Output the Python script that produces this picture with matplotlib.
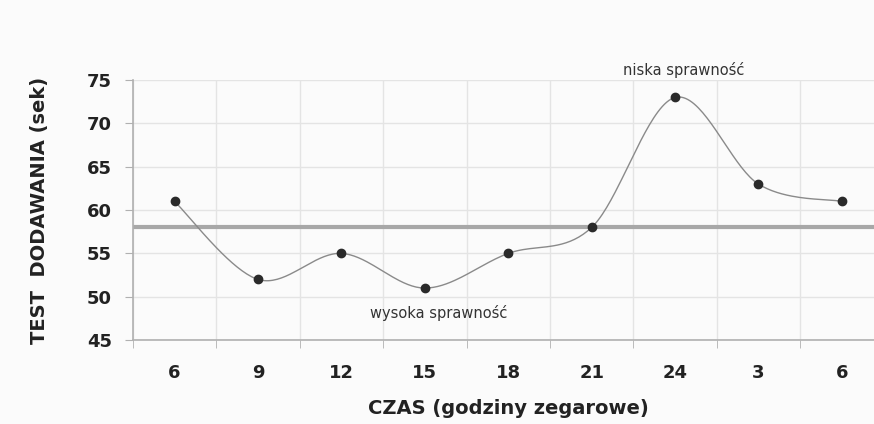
import numpy as np
import matplotlib.pyplot as plt

plt.rcParams['font.family'] = ['DejaVu Sans']

# data
hours = ['6', '9', '12', '15', '18', '21', '24', '3', '6']
times = [61, 52, 55, 51, 55, 58, 73, 63, 61]
mean_level = 58


def smooth_curve(x, y, n=40):
    # Excel-like smoothed line (Catmull-Rom as cubic Bezier)
    x = np.asarray(x, float)
    y = np.asarray(y, float)
    px = np.concatenate([[x[0]], x, [x[-1]]])
    py = np.concatenate([[y[0]], y, [y[-1]]])
    xs, ys = [], []
    t = np.linspace(0, 1, n)
    for i in range(1, len(px) - 2):
        p0 = np.array([px[i], py[i]])
        p3 = np.array([px[i + 1], py[i + 1]])
        c1 = p0 + (np.array([px[i + 1], py[i + 1]]) - np.array([px[i - 1], py[i - 1]])) / 6
        c2 = p3 - (np.array([px[i + 2], py[i + 2]]) - np.array([px[i], py[i]])) / 6
        b = ((1 - t) ** 3)[:, None] * p0 + (3 * (1 - t) ** 2 * t)[:, None] * c1 \
            + (3 * (1 - t) * t ** 2)[:, None] * c2 + (t ** 3)[:, None] * p3
        xs.extend(b[:, 0])
        ys.extend(b[:, 1])
    return np.array(xs), np.array(ys)


fig = plt.figure(figsize=(8.74, 4.24), dpi=100)
fig.patch.set_facecolor('#fbfbfb')
ax = fig.add_axes([0.152, 0.198, 0.859, 0.613])
ax.set_facecolor('#fbfbfb')

x = np.arange(len(hours))
xs, ys = smooth_curve(x, times)
ax.plot(xs, ys, color='#8a8a8a', lw=1.0, zorder=3)
ax.plot(x, times, 'o', color='#2a2a2a', ms=6, zorder=4)
ax.axhline(mean_level, color='#a8a8a8', lw=3, zorder=2)

ax.set_xlim(-0.5, len(hours) - 0.5)
ax.set_ylim(45, 75)
ax.set_yticks(range(45, 76, 5))
ax.set_xticks(x)
ax.set_xticklabels(hours)
ax.set_xticks(np.arange(-0.5, len(hours), 1), minor=True)
ax.tick_params(axis='x', which='major', length=0, pad=17)
ax.tick_params(axis='x', which='minor', length=6, color='#b0b0b0', direction='out')
ax.tick_params(axis='y', length=6, color='#b0b0b0', direction='out', pad=9)
for lbl in ax.get_xticklabels() + ax.get_yticklabels():
    lbl.set_fontsize(13)
    lbl.set_fontweight('bold')
    lbl.set_color('#222222')

ax.grid(True, axis='y', color='#e4e4e4', lw=1)
ax.grid(True, axis='x', which='minor', color='#e4e4e4', lw=1)
ax.set_axisbelow(True)
for side in ['top', 'right']:
    ax.spines[side].set_visible(False)
for side in ['left', 'bottom']:
    ax.spines[side].set_color('#b0b0b0')
    ax.spines[side].set_linewidth(1.2)

ax.set_xlabel('CZAS (godziny zegarowe)', fontsize=14, fontweight='bold', color='#222222')
ax.set_ylabel('TEST  DODAWANIA (sek)', fontsize=14, fontweight='bold', color='#222222')
ax.xaxis.set_label_coords(0.5, -0.225)
ax.yaxis.set_label_coords(-0.112, 0.5)

ax.text(6.1, 76.2, 'niska sprawność', fontsize=10.5, color='#333333', ha='center', va='center')
ax.text(3.17, 48.1, 'wysoka sprawność', fontsize=10.5, color='#333333', ha='center', va='center')

fig.savefig('out.png', dpi=100, facecolor=fig.get_facecolor())
